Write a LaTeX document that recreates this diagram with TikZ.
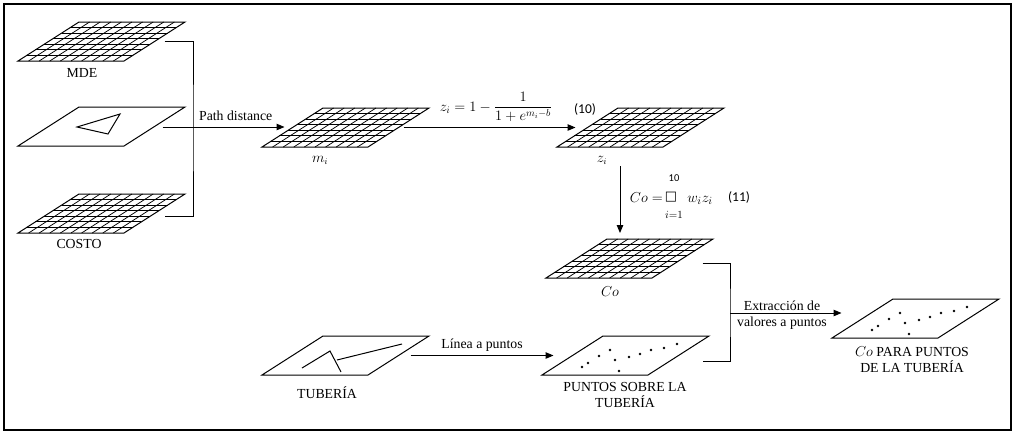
\documentclass[tikz,border=0pt]{standalone}
\usepackage{fontspec}
\usepackage{amsmath}
\setmainfont{Liberation Serif}
\newfontfamily\calib{Carlito}
\newfontfamily\dejavu{DejaVu Sans}
\usetikzlibrary{arrows.meta,calc}
\tikzset{
  ln/.style={line width=1pt, black},
  thin ln/.style={line width=0.75pt, black},
  arr/.style={ln, -{Triangle[length=8pt,width=6.5pt]}},
  lbl/.style={font=\rmfamily\fontsize{13.8}{16}\selectfont, align=center, inner sep=0pt},
  mlbl/.style={font=\fontsize{13.5}{16}\selectfont, inner sep=0pt},
  grid/.pic={
    \foreach \i in {1,...,6}
      \draw[thin ln] ({61*\i/7},{-39*\i/7}) -- ({106+61*\i/7},{-39*\i/7});
    \foreach \j in {1,...,9}
      \draw[thin ln] ({10.6*\j},0) -- ({10.6*\j+61},-39);
    \draw[ln, line join=miter] (0,0) -- (106,0) -- (167,-39) -- (61,-39) -- cycle;
    \coordinate (-r) at (136.5,-19.5);
    \coordinate (-l) at (30.5,-19.5);
    \coordinate (-t) at (83.5,-39);
  },
  plane/.pic={
    \draw[ln, line join=miter] (0,0) -- (106,0) -- (167,-39) -- (61,-39) -- cycle;
    \coordinate (-r) at (136.5,-19.5);
    \coordinate (-l) at (30.5,-19.5);
  },
  dplane/.pic={
    \draw[ln, line join=miter] (0,0) -- (106,0) -- (167,-39) -- (61,-39) -- cycle;
    \foreach \p in {(40,-8),(46,-12),(57,-19),(68,-25),(73,-15),(77,-4),(87,-18),(98,-21),(109,-25),(122,-27),(135,-31)}
      \fill \p circle (1.3);
    \coordinate (-r) at (136.5,-19.5);
    \coordinate (-l) at (30.5,-19.5);
  }
}
\begin{document}
\begin{tikzpicture}[x=1pt,y=-1pt]
\useasboundingbox (0,0) rectangle (1018,437);
\draw[line width=1.2pt] (4,4) rectangle (1011,430);

% layers
\pic (mde) at (18,61) {grid};
\pic (plan) at (18,146) {plane};
\draw[ln] (77,127) -- (120,114) -- (108,134) -- cycle;
\pic (costo) at (18,233) {grid};
\pic (mi) at (262,147) {grid};
\pic (zi) at (557,147) {grid};
\pic (co) at (546,278) {grid};
\pic (tub) at (262,375) {plane};
\draw[ln] (302,368) -- (330,351) -- (341,372);
\draw[ln] (337,360) -- (402,344);
\pic (pts) at (542,375) {dplane};
\pic (fin) at (832,338) {dplane};

% labels
\node[lbl] (lmde) at (82,73) {MDE};
\node[lbl] (lcosto) at (79,244) {COSTO};
\node[mlbl] (lmi) at (320,160) {$m_i$};
\node[mlbl] (lzi) at (602,160) {$z_i$};
\node[mlbl] (lco) at (610,292) {$Co$};
\node[lbl] (ltub) at (327,393) {TUBERÍA};
\node[lbl] (lpts) at (625,395) {PUNTOS SOBRE LA\\TUBERÍA};
\node[lbl] (lfin) at (912,360) {$Co$ PARA PUNTOS\\DE LA TUBERÍA};

% connectors
\coordinate (brk) at (193,127);
\draw[ln] ($(mde-r)+(10,0)$) -| (brk) |- ($(costo-r)+(10,3)$);
\coordinate (pstart) at ($(plan-r)+(8,0.5)$);
\draw[arr] (pstart) -- ($(pstart -| mi-l)+(-8,0)$)
  node[lbl, pos=0.6, above=6pt] (lpath) {Path distance};

\coordinate (zstart) at ($(mi-r)+(5,0)$);
\draw[arr] (zstart) -- ($(zstart -| zi-l)+(-12,0)$);
\node[inner sep=0pt, font=\fontsize{14.3}{17}\selectfont] (f10) at (496,107) {$z_i = 1 - \dfrac{1}{1+e^{m_i-b}}$};
\node[inner sep=0pt, font=\calib\fontsize{13.5}{15}\selectfont] (n10) at (585,109) {(10)};

\coordinate (zdown) at (620,166);
\draw[arr] (zdown) -- ($(zdown |- co-t)+(0,-6)$);
\node[inner sep=0pt, anchor=base east, font=\fontsize{15.5}{17}\selectfont] (f11) at (663,202) {$Co =$};
\node[inner sep=0pt, font=\dejavu\fontsize{13}{15}\selectfont] (sq) at (671,197) {□};
\node[inner sep=0pt, anchor=base, font=\fontsize{15}{17}\selectfont] (wz) at (700,202) {$w_i z_i$};
\node[inner sep=0pt, font=\calib\fontsize{13.5}{15}\selectfont] (n11) at (739,197) {(11)};
\node[inner sep=0pt, font=\calib\fontsize{10.5}{12}\selectfont] (s10) at (674,178) {10};
\node[inner sep=0pt, font=\fontsize{10.5}{12}\selectfont] (s1) at (674,215) {$i{=}1$};

\coordinate (brk2) at (730,313);
\draw[ln] ($(co-r)+(20,4.5)$) -| (brk2) |- ($(pts-r)+(24,5.5)$);
\draw[arr] (brk2) -- ($(brk2 -| fin-l)+(-21,0)$);
\node[lbl] (lext) at (782,315) {Extracción de\\valores a puntos};

\coordinate (tstart) at ($(tub-r)+(12,0)$);
\draw[arr] (tstart) -- ($(tstart -| pts-l)+(-19,0)$)
  node[lbl, midway, above=4pt] (llin) {Línea a puntos};
\end{tikzpicture}
\end{document}
